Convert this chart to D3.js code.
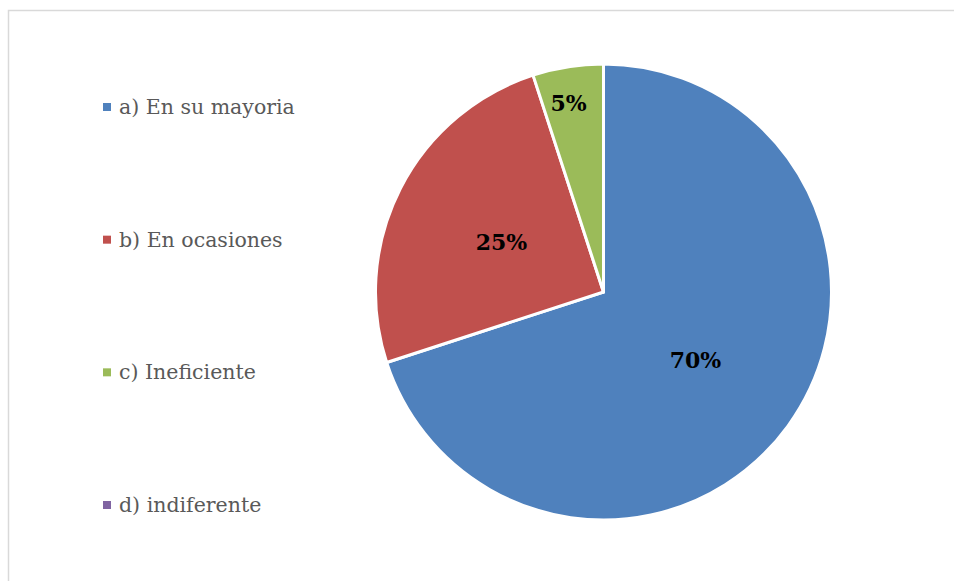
<!DOCTYPE html>
<html><head><meta charset="utf-8">
<script src="https://cdn.jsdelivr.net/npm/d3@7"></script>
<style>body{margin:0;background:#fff}</style></head>
<body><svg id="c" width="954" height="581"></svg>
<script>
const categories = ["a) En su mayoria", "b) En ocasiones", "c) Ineficiente", "d) indiferente"];
const values = [70, 25, 5, 0];
const labels = ["70%", "25%", "5%", ""];
const colors = ["#4F81BD", "#C0504D", "#9BBB59", "#8064A2"];

const svg = d3.select("#c");
svg.append("path").attr("d", "M8.5,581 L8.5,10.5 L954,10.5").attr("fill", "none").attr("stroke", "#d9d9d9").attr("stroke-width", 1.5);

const cx = 603.5, cy = 292, r = 228;
const pie = d3.pie().sort(null).value(d => d)(values);
const arc = d3.arc().innerRadius(0).outerRadius(r);
const g = svg.append("g").attr("transform", `translate(${cx},${cy})`);
g.selectAll("path").data(pie).join("path")
  .attr("d", arc).attr("fill", (d, i) => colors[i])
  .attr("stroke", "#fff").attr("stroke-width", 3).attr("stroke-linejoin", "round");

const labelPos = [[92, 68], [-102, -50], [-35, -189]];
g.selectAll("text").data(pie.filter(d => d.value > 0)).join("text")
  .attr("x", (d, i) => labelPos[i][0]).attr("y", (d, i) => labelPos[i][1])
  .attr("text-anchor", "middle").attr("dominant-baseline", "central")
  .attr("font-family", "DejaVu Serif").attr("font-weight", "bold").attr("font-size", 22)
  .attr("fill", "#000").text((d, i) => labels[i]);

const ly = d3.scalePoint().domain(categories).range([107, 505]);
const leg = svg.append("g");
leg.selectAll("rect").data(categories).join("rect")
  .attr("x", 103).attr("y", d => ly(d) - 4).attr("width", 8).attr("height", 8)
  .attr("fill", (d, i) => colors[i]);
leg.selectAll("text").data(categories).join("text")
  .attr("x", 119).attr("y", d => ly(d)).attr("dominant-baseline", "central")
  .attr("font-family", "DejaVu Serif").attr("font-size", 20.5).attr("fill", "#595959")
  .text(d => d);
</script></body></html>
